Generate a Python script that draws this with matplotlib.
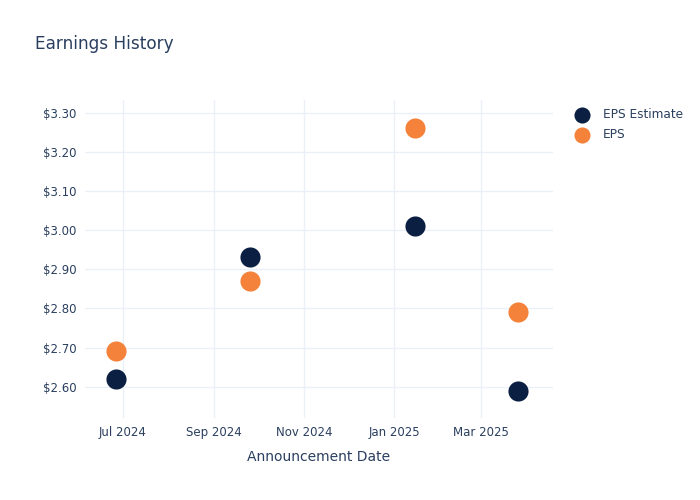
import numpy as np
import pandas as pd
import matplotlib
matplotlib.use("Agg")
import matplotlib.pyplot as plt
import matplotlib.dates as mdates
from matplotlib.ticker import FuncFormatter

# data
dates = pd.to_datetime(["2024-06-26", "2024-09-25", "2025-01-15", "2025-03-26"])
eps_estimate = [2.62, 2.93, 3.01, 2.59]
eps_actual = [2.69, 2.87, 3.26, 2.79]

TEXT = "#2a3f5f"
GRID = "#ebf0f8"
NAVY = "#0b1f42"
ORANGE = "#f5823a"

fig = plt.figure(figsize=(7, 5), dpi=100)
ax = fig.add_axes([0.121, 0.164, 0.669, 0.636])

ax.scatter(dates, eps_estimate, s=210, color=NAVY, label="EPS Estimate", zorder=3, linewidths=0)
ax.scatter(dates, eps_actual, s=210, color=ORANGE, label="EPS", zorder=3, linewidths=0)

ax.set_xlim(pd.Timestamp("2024-06-05"), pd.Timestamp("2025-04-19"))
ax.set_ylim(2.52, 3.332)

ax.xaxis.set_major_locator(mdates.MonthLocator(bymonth=[1, 3, 5, 7, 9, 11]))
ax.xaxis.set_major_formatter(mdates.DateFormatter("%b %Y"))
ax.set_yticks(np.arange(2.6, 3.31, 0.1))
ax.yaxis.set_major_formatter(FuncFormatter(lambda v, p: f"${v:.2f}"))

ax.grid(True, color=GRID, linewidth=1)
ax.set_axisbelow(True)
for s in ax.spines.values():
    s.set_visible(False)
ax.tick_params(length=0, colors=TEXT, labelsize=8.5, pad=6)

ax.set_xlabel("Announcement Date", color=TEXT, fontsize=10, labelpad=8)

fig.text(0.05, 0.912, "Earnings History", color=TEXT, fontsize=12.2, va="center")

leg = ax.legend(loc="upper left", bbox_to_anchor=(1.018, 1.0), frameon=False,
                fontsize=8.7, labelcolor=TEXT, handletextpad=0.75,
                labelspacing=0.55, borderaxespad=0.3, markerscale=0.8)

fig.savefig("out.png", dpi=100)
